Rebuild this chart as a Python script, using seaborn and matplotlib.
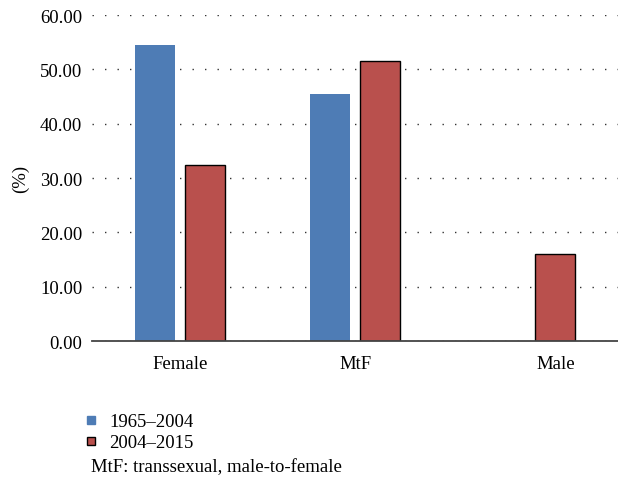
import matplotlib
matplotlib.use("Agg")
import matplotlib.pyplot as plt
from matplotlib.lines import Line2D
import pandas as pd
import seaborn as sns

# values (%)
categories = ["Female", "MtF", "Male"]
periods = ["1965\u20132004", "2004\u20132015"]
early = [54.5, 45.5, None]
late = [32.4, 51.6, 16.0]
yticks = [0, 10, 20, 30, 40, 50, 60]

blue = "#4E7CB5"
red = "#B9504D"

df = pd.DataFrame({
    "category": categories * 2,
    "period": [periods[0]] * 3 + [periods[1]] * 3,
    "value": early + late,
})

sns.set_theme(style="white")
plt.rcParams["font.family"] = ["Liberation Serif", "DejaVu Serif"]
plt.rcParams["text.color"] = "black"
plt.rcParams["axes.labelcolor"] = "black"
fs = 13.5

fig = plt.figure(figsize=(6.18, 4.89), dpi=100)
ax = fig.add_axes([0.149, 0.3006, 0.851, 0.6664])

sns.barplot(data=df, x="category", y="value", hue="period", order=categories,
            hue_order=periods, palette=[blue, red], width=0.57, gap=0.2,
            saturation=1, legend=False, ax=ax)

# red bars get a black outline, blue ones none
for p in ax.patches:
    h = p.get_height()
    if h != h or h == 0:
        continue
    fc = p.get_facecolor()
    if fc[0] > 0.6:
        p.set_edgecolor("black")
        p.set_linewidth(1.0)
    else:
        p.set_edgecolor("none")

# Male has a single bar, its label sits under it
male_pos = 2
for p in ax.patches:
    h = p.get_height()
    cx = p.get_x() + p.get_width() / 2
    if abs(cx - 2) < 0.4 and h == h and h > 0:
        male_pos = cx
ax.set_xticks([0, 1, male_pos])
ax.set_xticklabels(categories)

ax.set_xlim(-0.5, 2.5)
ax.set_ylim(0, 60)
ax.set_yticks(yticks)
ax.set_yticklabels([f"{v:.2f}" for v in yticks])
ax.set_xlabel("")
ax.set_ylabel("(%)", fontsize=fs, labelpad=8, color="black")

ax.yaxis.grid(True, linestyle=(0, (1, 8)), color="#333333", linewidth=1.0)
ax.set_axisbelow(True)
for s in ["top", "right", "left"]:
    ax.spines[s].set_visible(False)
ax.spines["bottom"].set_color("#444444")
ax.spines["bottom"].set_linewidth(1.3)
ax.tick_params(axis="both", length=0, labelsize=fs, colors="black")
ax.tick_params(axis="y", pad=7)
ax.tick_params(axis="x", pad=10)

handles = [
    Line2D([], [], marker="s", linestyle="none", markersize=5.5,
           markerfacecolor=blue, markeredgecolor=blue),
    Line2D([], [], marker="s", linestyle="none", markersize=5.5,
           markerfacecolor=red, markeredgecolor="black"),
]
leg = fig.legend(handles, periods, loc="upper left", bbox_to_anchor=(0.137, 0.153),
                 frameon=False, fontsize=fs, handlelength=0.7, handletextpad=0.6,
                 labelspacing=0.2, borderaxespad=0, borderpad=0)
for t in leg.get_texts():
    t.set_color("black")
fig.text(0.147, 0.043, "MtF: transsexual, male-to-female", fontsize=fs,
         va="center", ha="left", color="black")

fig.savefig("out.png", dpi=100)
